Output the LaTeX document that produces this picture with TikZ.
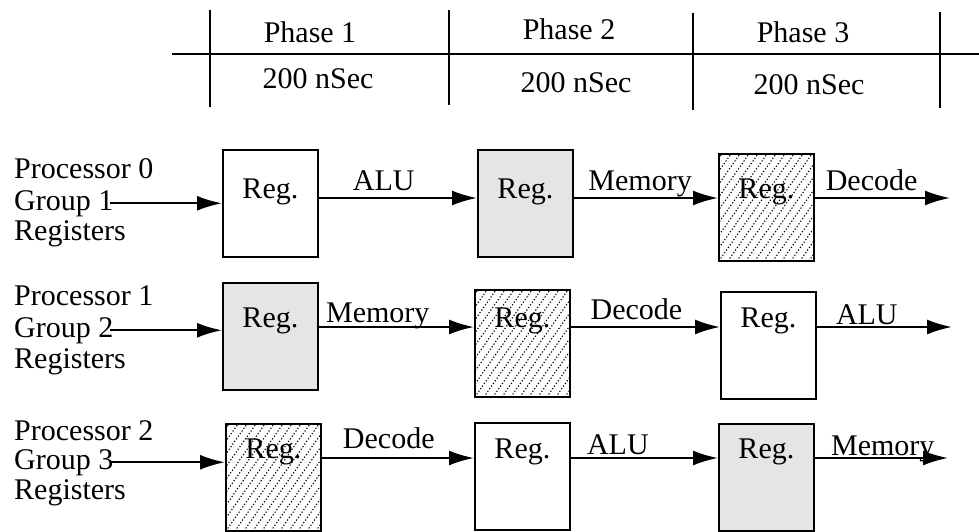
\documentclass[tikz,border=0pt]{standalone}
\usepackage{fontspec}
\setmainfont{Liberation Serif}
\usetikzlibrary{arrows.meta}
\tikzset{
  reg/.style={
    draw,
    line width=1.8pt,
    inner sep=0pt,
    minimum width=95pt,
    anchor=base west,
    text height=#1,
    text depth={107pt-#1}
  },
  grey/.style={
    fill=gray!20
  },
  hatch/.style={
    path picture={
      \foreach \k in {-10,...,11}
        \draw[line width=1.1pt, dash pattern=on 1.2pt off 2pt]
          ([xshift=\k*9pt]path picture bounding box.south west) -- ++(75pt,107pt);
    }
  },
  flow/.style={
    line width=2.2pt,
    -{Latex[length=25pt,width=15pt]}
  },
  lbl/.style={
    anchor=base,
    inner sep=0pt,
    yshift=#1
  },
  lbl/.default=8pt,
  txt/.style={
    anchor=base west,
    inner sep=0pt
  },
  hdr/.style={
    anchor=base,
    inner sep=0pt
  }
}
\begin{document}
\begin{tikzpicture}[x=1pt,y=-1pt,font=\fontsize{30}{36}\selectfont]
  \useasboundingbox (0,0) rectangle (979,531);
  % phase table
  \coordinate (tl) at (172,54);
  \coordinate (tr) at (979,54);
  \draw[line width=1.8pt] (tl) -- (tr);
  \foreach \x/\t/\b in {210/10/107,449/10/105,693/13/110,940/12/108}
    \draw[line width=1.4pt] (\x,\t) -- (\x,\b);
  \node[hdr] (ph1) at (310,42) {Phase 1};
  \node[hdr] (ph2) at (569,39) {Phase 2};
  \node[hdr] (ph3) at (803,42) {Phase 3};
  \node[hdr] (ns1) at (318,88) {200 nSec};
  \node[hdr] (ns2) at (576,92) {200 nSec};
  \node[hdr] (ns3) at (809,94) {200 nSec};
  % processor 0
  \node[txt] (proc0) at (14,178) {Processor 0};
  \node[txt] (grp0) at (14,210) {Group 1};
  \node[txt] (regs0) at (14,240) {Registers};
  \node[reg=48pt] (b00) at (222,198) {Reg.};
  \node[reg=48pt, grey] (b01) at (477,198) {Reg.};
  \node[reg=44pt, hatch] (b02) at (718,198) {Reg.};
  \coordinate (end0) at (950,198);
  \draw[flow] ([xshift=-4pt]grp0.east) -- (grp0.east -| b00.west);
  \draw[flow] (b00.base east) -- node[lbl, pos=0.41] {ALU} (b01.base west);
  \draw[flow] (b01.base east) -- node[lbl, pos=0.46] {Memory} (b02.base west);
  \draw[flow] (b02.base east) -- node[lbl, pos=0.42] {Decode} (end0);
  % processor 1
  \node[txt] (proc1) at (14,305) {Processor 1};
  \node[txt] (grp1) at (14,337) {Group 2};
  \node[txt] (regs1) at (14,368) {Registers};
  \node[reg=44pt, grey] (b10) at (222,327) {Reg.};
  \node[reg=37pt, hatch] (b11) at (474,327) {Reg.};
  \node[reg=35pt] (b12) at (720,327) {Reg.};
  \coordinate (end1) at (952,327);
  \draw[flow] ([xshift=-4pt]grp1.east) -- (grp1.east -| b10.west);
  \draw[flow] (b10.base east) -- node[lbl=5pt, pos=0.38] {Memory} (b11.base west);
  \draw[flow] (b11.base east) -- node[lbl, pos=0.44] {Decode} (b12.base west);
  \draw[flow] (b12.base east) -- node[lbl=3pt, pos=0.37] {ALU} (end1);
  % processor 2
  \node[txt] (proc2) at (14,440) {Processor 2};
  \node[txt] (grp2) at (14,469) {Group 3};
  \node[txt] (regs2) at (14,499) {Registers};
  \node[reg=34pt, hatch] (b20) at (225,458) {Reg.};
  \node[reg=35pt] (b21) at (474,458) {Reg.};
  \node[reg=34pt, grey] (b22) at (718,458) {Reg.};
  \coordinate (end2) at (948,458);
  \draw[flow] ([xshift=-4pt]grp2.east) -- (grp2.east -| b20.west);
  \draw[flow] (b20.base east) -- node[lbl=10pt, pos=0.44] {Decode} (b21.base west);
  \draw[flow] (b21.base east) -- node[lbl=4pt, pos=0.32] {ALU} (b22.base west);
  \draw[flow] (b22.base east) -- node[lbl=3pt, pos=0.51] {Memory} (end2);
\end{tikzpicture}
\end{document}
